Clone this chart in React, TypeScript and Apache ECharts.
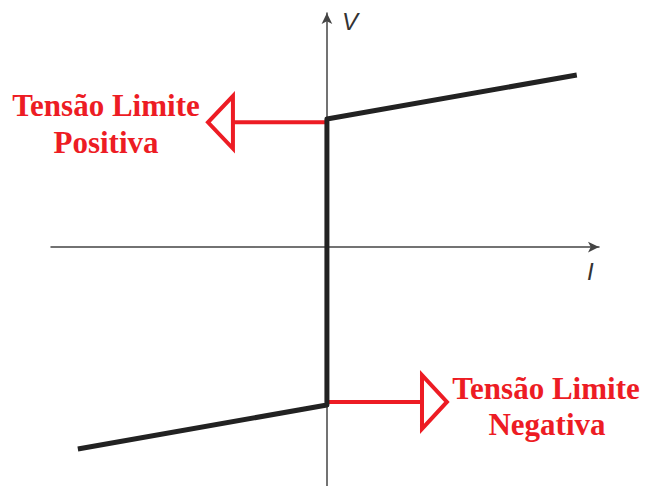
import React, { useEffect, useRef } from "react";
import * as echarts from "echarts";

// Characteristic curve (I, V) in arbitrary units
const curveI = [-9.09, 0, 0, 9.12];
const curveV = [-8.63, -6.75, 5.47, 7.35];

// Annotation arrows (shaft + hollow head), in the same units
const posArrowI = [0, -3.43, -3.43, -4.34, -3.43, -3.43];
const posArrowV = [5.33, 5.33, 6.45, 5.33, 4.21, 5.33];
const negArrowI = [0.05, 3.47, 3.47, 4.38, 3.47, 3.47];
const negArrowV = [-6.62, -6.62, -5.47, -6.62, -7.77, -6.62];

const axisNames = ["I", "V"];
const posLabel = ["Tensão Limite", "Positiva"];
const negLabel = ["Tensão Limite", "Negativa"];

const zip = (a: number[], b: number[]) => a.map((v, i) => [v, b[i]]);

export default function App() {
  const ref = useRef<HTMLDivElement>(null);
  useEffect(() => {
    if (!ref.current) return;
    const chart = echarts.init(ref.current, null, { renderer: "svg" });
    const red = "#ed1c24";
    const labelFont = "bold 31px 'Liberation Serif', 'Times New Roman', serif";
    const axisLine = {
      onZero: true,
      symbol: ["none", "arrow"],
      symbolSize: [8, 11],
      lineStyle: { color: "#444", width: 1.5 },
    };
    chart.setOption({
      animation: false,
      backgroundColor: "#ffffff",
      grid: { left: 51, top: 13, width: 548, height: 473 },
      xAxis: {
        type: "value",
        min: -10.07,
        max: 9.93,
        axisLine,
        axisTick: { show: false },
        axisLabel: { show: false },
        splitLine: { show: false },
      },
      yAxis: {
        type: "value",
        min: -10.21,
        max: 10,
        axisLine,
        axisTick: { show: false },
        axisLabel: { show: false },
        splitLine: { show: false },
      },
      series: [
        {
          type: "line",
          data: zip(posArrowI, posArrowV),
          symbol: "none",
          lineStyle: { color: red, width: 4, join: "miter" },
          z: 3,
        },
        {
          type: "line",
          data: zip(negArrowI, negArrowV),
          symbol: "none",
          lineStyle: { color: red, width: 4, join: "miter" },
          z: 3,
        },
        {
          type: "line",
          data: zip(curveI, curveV),
          symbol: "none",
          lineStyle: { color: "#222", width: 5, join: "round" },
          z: 4,
        },
      ],
      graphic: [
        {
          type: "text",
          left: 342,
          top: 9,
          style: {
            text: axisNames[1],
            font: "italic 24px 'Liberation Sans', Arial, sans-serif",
            fill: "#333",
          },
        },
        {
          type: "text",
          left: 587,
          top: 259,
          style: {
            text: axisNames[0],
            font: "italic 24px 'Liberation Sans', Arial, sans-serif",
            fill: "#333",
          },
        },
        {
          type: "text",
          x: 106,
          y: 105,
          style: { text: posLabel[0], font: labelFont, fill: red, align: "center", verticalAlign: "middle" },
        },
        {
          type: "text",
          x: 106,
          y: 142,
          style: { text: posLabel[1], font: labelFont, fill: red, align: "center", verticalAlign: "middle" },
        },
        {
          type: "text",
          x: 546,
          y: 388,
          style: { text: negLabel[0], font: labelFont, fill: red, align: "center", verticalAlign: "middle" },
        },
        {
          type: "text",
          x: 547,
          y: 424,
          style: { text: negLabel[1], font: labelFont, fill: red, align: "center", verticalAlign: "middle" },
        },
      ],
    });
    return () => chart.dispose();
  }, []);
  return (
    <div
      ref={ref}
      style={{ position: "absolute", left: 0, top: 0, width: 645, height: 486 }}
    />
  );
}
